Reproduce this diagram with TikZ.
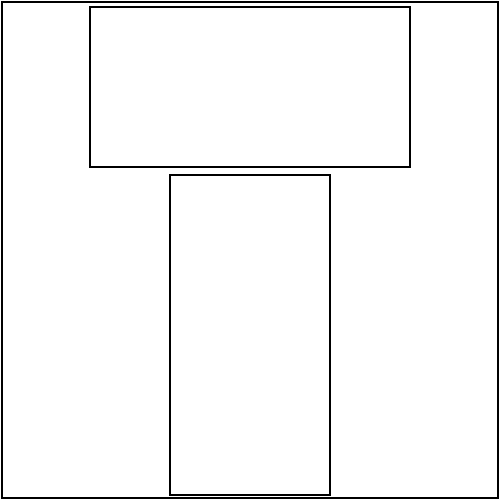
\documentclass[tikz,border=0pt]{standalone}
\usetikzlibrary{positioning}

\begin{document}
\begin{tikzpicture}[
    node distance=1.6mm,
    frame/.style={rectangle, draw, line width=1.3pt, inner sep=0pt, outer sep=0pt},
    box/.style={frame, minimum width=6.4cm, minimum height=3.2cm},
    stembox/.style={frame, minimum width=3.2cm, minimum height=6.4cm},
]

\useasboundingbox (0,0) rectangle (10,10);

\node[frame, minimum size=9.92cm] (outer) at (5,5) {};
\node[box] (top) at (5,8.26) {};
\node[stembox] (stem) [below=of top] {};

\end{tikzpicture}
\end{document}
